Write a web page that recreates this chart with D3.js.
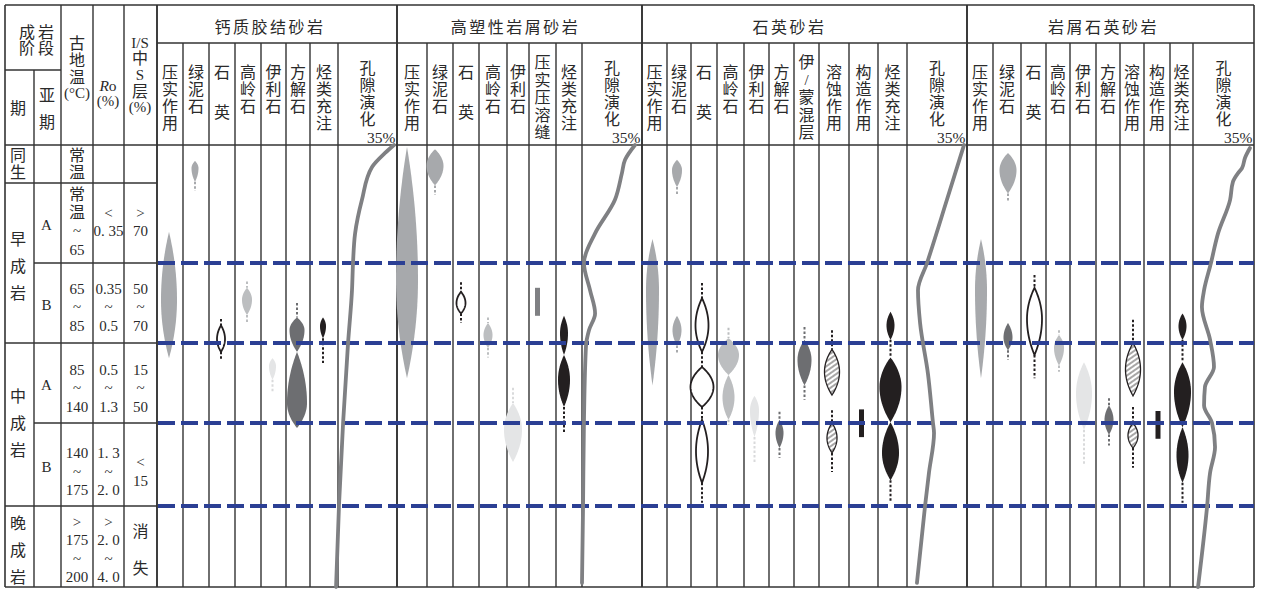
<!DOCTYPE html>
<html lang="zh">
<head>
<meta charset="utf-8">
<title>砂岩成岩演化序列</title>
<script src="https://cdn.jsdelivr.net/npm/d3@7/dist/d3.min.js"></script>
<style>
  html, body { margin: 0; padding: 0; background: #fff; }
  svg text { font-family: "Liberation Serif", "Noto Sans CJK SC", serif; fill: #2a2a2a; }
</style>
</head>
<body>
<svg id="chart" width="1264" height="589"></svg>
<script>
// ================= Data =================
// Diagenetic stages (stage units: 0 = top of 同生 … 6 = bottom of 晚成岩)
const stagePeriods = ["同生", "早成岩", "中成岩", "晚成岩"];
const periodSpans = [[0, 1], [1, 3], [3, 5], [5, 6]];
const subStages = ["", "A", "B", "A", "B", ""];
const paleoTemp = [["常", "温"], ["常", "温", "~", "65"], ["65", "~", "85"], ["85", "~", "140"], ["140", "~", "175"], [">", "175", "~", "200"]];
const roValues = [[], ["<", "0. 35"], ["0.35", "~", "0.5"], ["0.5", "~", "1.3"], ["1. 3", "~", "2. 0"], [">", "2. 0", "~", "4. 0"]];
const isValues = [[], [">", "70"], ["50", "~", "70"], ["15", "~", "50"], ["<", "15"], ["消", "", "失"]];

// Column headings of each sandstone type
const calcColumns = ["压实作用", "绿泥石", "石 英", "高岭石", "伊利石", "方解石", "烃类充注", "孔隙演化"];
const plasticColumns = ["压实作用", "绿泥石", "石 英", "高岭石", "伊利石", "压实压溶缝", "烃类充注", "孔隙演化"];
const quartzColumns = ["压实作用", "绿泥石", "石 英", "高岭石", "伊利石", "方解石", "伊/蒙混层", "溶蚀作用", "构造作用", "烃类充注", "孔隙演化"];
const lithicColumns = ["压实作用", "绿泥石", "石 英", "高岭石", "伊利石", "方解石", "溶蚀作用", "构造作用", "烃类充注", "孔隙演化"];

// Diagenetic events: lobes = [from, to, peak, relative intensity], tails = dotted extent [from, to], bar = [from, to]
const calcMarks = [
  { col: "压实作用", tone: "mid", lobes: [[1.61, 3.19, 2.46, 0.64]] },
  { col: "绿泥石", tone: "mid", lobes: [[0.42, 0.97, 0.61, 0.28]], tails: [[0.97, 1.10]] },
  { col: "石英", tone: "outline", lobes: [[2.78, 3.11, 2.95, 0.32]], tails: [[2.70, 2.78], [3.11, 3.21]] },
  { col: "高岭石", tone: "light", lobes: [[2.31, 2.65, 2.46, 0.40]], tails: [[2.23, 2.31], [2.65, 2.75]] },
  { col: "伊利石", tone: "pale", lobes: [[3.19, 3.46, 3.29, 0.28]], tails: [[3.46, 3.61]] },
  { col: "方解石", tone: "dark", lobes: [[2.68, 3.11, 2.84, 0.60], [3.11, 4.06, 3.75, 0.80]], tails: [[2.50, 2.68]] },
  { col: "烃类充注", tone: "black", lobes: [[2.68, 2.94, 2.79, 0.24]], tails: [[2.94, 3.25]] }
];
const plasticMarks = [
  { col: "压实作用", tone: "mid", lobes: [[0.05, 3.44, 2.21, 0.88]] },
  { col: "绿泥石", tone: "mid", lobes: [[0.11, 1.03, 0.55, 0.68]], tails: [[1.03, 1.15]] },
  { col: "石英", tone: "outline", lobes: [[2.36, 2.63, 2.50, 0.36]], tails: [[2.24, 2.36], [2.63, 2.75]] },
  { col: "高岭石", tone: "light", lobes: [[2.75, 3.06, 2.90, 0.36]], tails: [[2.68, 2.75], [3.06, 3.18]] },
  { col: "伊利石", tone: "pale", lobes: [[3.75, 4.47, 4.08, 0.72]], tails: [[3.56, 3.75]] },
  { col: "压实压溶缝", tone: "grey", bar: [2.31, 2.66] },
  { col: "烃类充注", tone: "black", lobes: [[2.66, 3.15, 2.88, 0.32], [3.15, 3.80, 3.46, 0.48]], tails: [[3.80, 4.11]] }
];
const quartzMarks = [
  { col: "压实作用", tone: "mid", lobes: [[1.70, 3.53, 2.34, 0.52]] },
  { col: "绿泥石", tone: "mid", lobes: [[0.39, 1.05, 0.66, 0.40], [2.66, 3.03, 2.84, 0.36]], tails: [[1.05, 1.15], [3.03, 3.13]] },
  { col: "石英", tone: "outline", lobes: [[2.44, 3.11, 2.78, 0.52], [3.30, 3.80, 3.55, 0.92], [3.96, 4.72, 4.34, 0.48]], tails: [[2.25, 2.44], [3.11, 3.30], [3.80, 3.96], [4.72, 4.96]] },
  { col: "高岭石", tone: "light", lobes: [[2.94, 3.40, 3.15, 0.84], [3.40, 3.96, 3.68, 0.48]], tails: [[2.81, 2.94], [3.96, 4.02]] },
  { col: "伊利石", tone: "pale", lobes: [[3.66, 4.17, 3.84, 0.36]], tails: [[4.17, 4.47]] },
  { col: "方解石", tone: "dark", lobes: [[3.96, 4.30, 4.12, 0.32]], tails: [[3.86, 3.96], [4.30, 4.42]] },
  { col: "伊/蒙混层", tone: "dark", lobes: [[2.96, 3.53, 3.21, 0.56]], tails: [[2.80, 2.96], [3.53, 3.71]] },
  { col: "溶蚀作用", tone: "hatch", lobes: [[3.08, 3.65, 3.36, 0.60], [4.00, 4.36, 4.18, 0.40]], tails: [[2.84, 3.08], [3.84, 4.00], [4.36, 4.59]] },
  { col: "构造作用", tone: "black", bar: [3.83, 4.17] },
  { col: "烃类充注", tone: "black", lobes: [[2.61, 2.96, 2.78, 0.32], [3.18, 3.99, 3.55, 0.88], [3.99, 4.69, 4.36, 0.68]], tails: [[2.96, 3.18], [4.69, 4.95]] }
];
const lithicMarks = [
  { col: "压实作用", tone: "mid", lobes: [[1.70, 3.44, 2.34, 0.48]] },
  { col: "绿泥石", tone: "mid", lobes: [[0.21, 1.13, 0.66, 0.68]], tails: [[1.13, 1.24]] },
  { col: "绿泥石", tone: "dark", lobes: [[2.75, 3.09, 2.93, 0.36]], tails: [[3.09, 3.21]] },
  { col: "石英", tone: "outline", lobes: [[2.31, 3.15, 2.70, 0.60]], tails: [[2.15, 2.31], [3.15, 3.44]] },
  { col: "高岭石", tone: "light", lobes: [[2.90, 3.28, 3.06, 0.40]], tails: [[2.84, 2.90], [3.28, 3.36]] },
  { col: "伊利石", tone: "pale", lobes: [[3.24, 4.08, 3.63, 0.64]], tails: [[4.08, 4.51]] },
  { col: "方解石", tone: "dark", lobes: [[3.78, 4.14, 3.96, 0.36]], tails: [[3.69, 3.78], [4.14, 4.27]] },
  { col: "溶蚀作用", tone: "hatch", lobes: [[3.00, 3.66, 3.33, 0.60], [4.00, 4.30, 4.15, 0.40]], tails: [[2.71, 3.00], [3.80, 4.00], [4.30, 4.54]] },
  { col: "构造作用", tone: "black", bar: [3.85, 4.19] },
  { col: "烃类充注", tone: "black", lobes: [[2.63, 2.96, 2.79, 0.32], [3.24, 4.05, 3.61, 0.68], [4.05, 4.72, 4.39, 0.48]], tails: [[2.96, 3.24], [4.72, 4.96]] }
];

// Porosity evolution: [stage, porosity %]
const calcPorosity = [[0, 35.0], [0.21, 29.8], [0.58, 22.2], [1.21, 16.3], [1.63, 12.3], [2, 11.1], [2.34, 10.5], [3, 8.2], [4, 5.3], [5, 2.9], [6, 1.2]];
const plasticPorosity = [[0, 32.7], [0.39, 27.0], [0.74, 25.2], [1.21, 21.2], [1.63, 9.8], [2, 3.4], [2.34, 6.9], [2.63, 9.8], [2.84, 6.3], [3.03, 4.6], [4, 3.4], [5, 2.9], [5.95, 2.3]];
const quartzPorosity = [[0, 35.0], [1.21, 25.2], [2, 13.8], [2.34, 8.6], [2.75, 9.8], [3.38, 14.3], [4, 17.2], [4.12, 17.8], [4.60, 14.9], [5.01, 12.6], [5.95, 8.0]];
const lithicPorosity = [[0.08, 34.4], [0.34, 31.6], [0.61, 29.9], [0.74, 27.7], [0.97, 24.8], [1.21, 23.2], [1.63, 16.4], [2, 12.4], [2.34, 8.5], [2.55, 7.3], [2.96, 11.9], [3.3, 14.1], [3.55, 9.0], [3.78, 8.5], [4, 13.0], [4.29, 14.7], [4.60, 11.9], [5.01, 10.2], [6, 5.1]];

const sections = [
  { title: "钙质胶结砂岩", columns: calcColumns, marks: calcMarks, porosity: calcPorosity },
  { title: "高塑性岩屑砂岩", columns: plasticColumns, marks: plasticMarks, porosity: plasticPorosity },
  { title: "石英砂岩", columns: quartzColumns, marks: quartzMarks, porosity: quartzPorosity },
  { title: "岩屑石英砂岩", columns: lithicColumns, marks: lithicMarks, porosity: lithicPorosity }
];

// ================= Layout =================
const X0 = 5, X1 = 1254, Y0 = 5, YTITLE = 43, YHEAD = 145, Y1 = 587;
const leftEdges = [5, 34, 61, 93, 124, 157];
const sectionLayout = [
  { edges: [157, 183, 209, 235, 261, 286, 310, 338, 397], shift: -1, titleShift: -7 },
  { edges: [397, 427, 453, 479, 507, 529, 556, 582, 642], shift: -5, titleShift: -4 },
  { edges: [642, 667, 691, 717, 744, 769, 794, 819, 849, 878, 907, 967], shift: -2, titleShift: -15 },
  { edges: [967, 993, 1021, 1046, 1070, 1096, 1120, 1144, 1170, 1193, X1], shift: 1, titleShift: -7 }
];
const rowTextShift = [0, -1, 4, 5, 7, 3];
const periodTextShift = [0, 3, -1, 4];

const y = d3.scaleLinear().domain([0, 1, 2, 3, 4, 5, 6]).range([YHEAD, 183, 263, 343, 423, 506, Y1]);
const widthScale = d3.scaleLinear().domain([0, 1]).range([0, 25]);

const toneFill = { mid: "#a7a9ac", light: "#bcbec0", pale: "#e4e5e6", dark: "#6d6e71", grey: "#7f8083", black: "#231f20", outline: "#ffffff", hatch: "url(#hatch)" };
const tailColor = { mid: "#a7a9ac", light: "#bcbec0", pale: "#d9dadb", dark: "#6d6e71", grey: "#7f8083", black: "#231f20", outline: "#231f20", hatch: "#231f20" };

const svg = d3.select("#chart");
const defs = svg.append("defs");
defs.append("pattern").attr("id", "hatch").attr("patternUnits", "userSpaceOnUse")
  .attr("width", 6).attr("height", 4).attr("patternTransform", "rotate(-35)")
  .call(p => p.append("rect").attr("width", 6).attr("height", 4).attr("fill", "#fff"))
  .append("line").attr("x1", 0).attr("x2", 6).attr("y1", 2).attr("y2", 2)
  .attr("stroke", "#231f20").attr("stroke-width", 0.8);

// ---------- grid ----------
const grid = svg.append("g").attr("stroke", "#333").attr("fill", "none");
function line(x1, y1, x2, y2, w = 1.4) {
  grid.append("line").attr("x1", x1).attr("y1", y1).attr("x2", x2).attr("y2", y2).attr("stroke-width", w);
}
line(X0, Y0, X1, Y0, 1.6);
line(X0, Y1, X1, Y1, 1.6);
line(X0, YHEAD, X1, YHEAD);
line(leftEdges[5], YTITLE, X1, YTITLE);
line(X0, 70, leftEdges[2], 70);
leftEdges.forEach((x, i) => line(x, i === 1 ? 70 : Y0, x, Y1, i === 0 ? 1.6 : 1.4));
// row separators in the stage table
[1, 2, 3, 4, 5].forEach(s => line(s === 2 || s === 4 ? leftEdges[1] : X0, y(s), leftEdges[5], y(s)));
sectionLayout.forEach((L, si) => {
  L.edges.forEach((x, i) => {
    const border = i === 0 || i === L.edges.length - 1;
    line(x, border ? Y0 : YTITLE, x, Y1, border ? 1.6 : 1.4);
  });
});

// ---------- text helpers ----------
const textG = svg.append("g");
const isCJK = s => /[\u3400-\u9fff]/.test(s);
function txt(s, x, yy, size, anchor = "middle") {
  const fs = size || (isCJK(s) ? 16 : 15);
  return textG.append("text").attr("x", x).attr("y", yy).attr("text-anchor", anchor)
    .attr("dominant-baseline", "central").style("font-size", fs + "px").text(s);
}
function stack(lines, x, cy, step) {
  const n = lines.length;
  lines.forEach((s, i) => { if (s) txt(s, x, cy + (i - (n - 1) / 2) * step); });
}

// ---------- stage table heading ----------
txt("成", 27, 32); txt("岩", 46, 32);
txt("阶", 27, 48); txt("段", 46, 48);
txt("期", 18, 108);
txt("亚", 47, 95); txt("期", 47, 122);
["古", "地", "温", "(°C)"].forEach((s, i) => txt(s, 77, [43, 60, 77, 93][i]));
const ro = txt("", 108, 85, 15.5);
ro.append("tspan").style("font-style", "italic").text("R");
ro.append("tspan").text("o");
txt("(%)", 108, 101);
["I/S", "中", "S", "层", "(%)"].forEach((s, i) => txt(s, 140, [43, 58, 75, 91, 107][i]));

// ---------- stage table body ----------
const colMid = i => (leftEdges[i] + leftEdges[i + 1]) / 2;
stagePeriods.forEach((p, i) => {
  const [a, b] = periodSpans[i];
  const cy = (y(a) + y(b)) / 2 + periodTextShift[i];
  stack([...p], colMid(0) - 1.5, cy, p.length === 2 ? 17 : 27);
});
subStages.forEach((s, i) => {
  if (s) txt(s, colMid(1) - 1, (y(i) + y(i + 1)) / 2 + 2);
});
[paleoTemp, roValues, isValues].forEach((vals, c) => {
  vals.forEach((lines, i) => {
    if (!lines.length) return;
    const cy = (y(i) + y(i + 1)) / 2 + rowTextShift[i];
    stack(lines, colMid(c + 2), cy, i === 0 ? 17 : 18.5);
  });
});

// ---------- sections ----------
function lensArea(cx, y0, y1, yp, hw) {
  const n = 24, pts = [];
  for (let i = 0; i <= n; i++) { const u = i / n; pts.push([y0 + (yp - y0) * u, hw * u * (2 - u)]); }
  for (let i = 1; i <= n; i++) { const t = i / n, u = 1 - t; pts.push([yp + (y1 - yp) * t, hw * u * (2 - u)]); }
  return d3.area().y(d => d[0]).x0(d => cx - d[1]).x1(d => cx + d[1])(pts);
}

const markG = svg.append("g");
const curveG = [];
sections.forEach((sec, si) => {
  const L = sectionLayout[si], e = L.edges;
  const mid = i => (e[i] + e[i + 1]) / 2;
  // title
  textG.append("text").attr("x", (e[0] + e[e.length - 1]) / 2 + L.titleShift).attr("y", 27)
    .attr("text-anchor", "middle").attr("dominant-baseline", "central")
    .style("font-size", "16px").style("letter-spacing", "2.5px").text(sec.title);
  // column headings, written vertically
  sec.columns.forEach((label, ci) => {
    const chars = [...label];
    const x = mid(ci);
    if (label === "孔隙演化") {
      chars.forEach((c, k) => txt(c, x, 68 + k * 17.3));
      txt("35%", e[ci + 1] - 1.5, 137, 15.5, "end");
      return;
    }
    const n = chars.filter(c => c !== " ").length;
    let yy = n >= 5 ? 62.5 : 72;
    const step = n >= 5 ? 17.5 : 17.2;
    chars.forEach(c => {
      if (c === " ") { yy += 23; return; }
      txt(c, x, yy);
      yy += step;
    });
  });
  // events
  const colX = name => mid(sec.columns.findIndex(c => c.replace(/\s/g, "") === name)) + L.shift;
  sec.marks.forEach(m => {
    const x = colX(m.col);
    (m.tails || []).forEach(t => markG.append("line")
      .attr("x1", x).attr("x2", x).attr("y1", y(t[0])).attr("y2", y(t[1]))
      .attr("stroke", tailColor[m.tone]).attr("stroke-width", 2).attr("stroke-dasharray", "2.5,2"));
    (m.lobes || []).forEach(l => {
      const p = markG.append("path")
        .attr("d", lensArea(x, y(l[0]), y(l[1]), y(l[2]), widthScale(l[3]) / 2))
        .attr("fill", toneFill[m.tone]);
      if (m.tone === "outline" || m.tone === "hatch") {
        p.attr("stroke", "#231f20").attr("stroke-width", m.tone === "outline" ? 1.8 : 1.3);
      }
    });
    if (m.bar) {
      markG.append("rect").attr("x", x - 2.5).attr("width", 5)
        .attr("y", y(m.bar[0])).attr("height", y(m.bar[1]) - y(m.bar[0]))
        .attr("fill", toneFill[m.tone]);
    }
  });
  // porosity scale for this section
  const pc = sec.columns.indexOf("孔隙演化");
  const px = d3.scaleLinear().domain([0, 35]).range([e[pc] - 4, e[pc + 1] - 3]);
  curveG.push({ data: sec.porosity, px });
});

// ---------- stage boundaries ----------
svg.append("g").selectAll("line").data([2, 3, 4, 5]).join("line")
  .attr("x1", leftEdges[5] + 1).attr("x2", X1).attr("y1", d => y(d)).attr("y2", d => y(d))
  .attr("stroke", "#2b3f94").attr("stroke-width", 4).attr("stroke-dasharray", "17,6");

// ---------- porosity evolution ----------
const pg = svg.append("g");
curveG.forEach(({ data, px }) => {
  pg.append("path")
    .attr("d", d3.line().x(d => px(d[1])).y(d => y(d[0])).curve(d3.curveMonotoneY)(data))
    .attr("fill", "none").attr("stroke", "#7f8083").attr("stroke-width", 3.8)
    .attr("stroke-linecap", "round");
});
</script>
</body>
</html>
